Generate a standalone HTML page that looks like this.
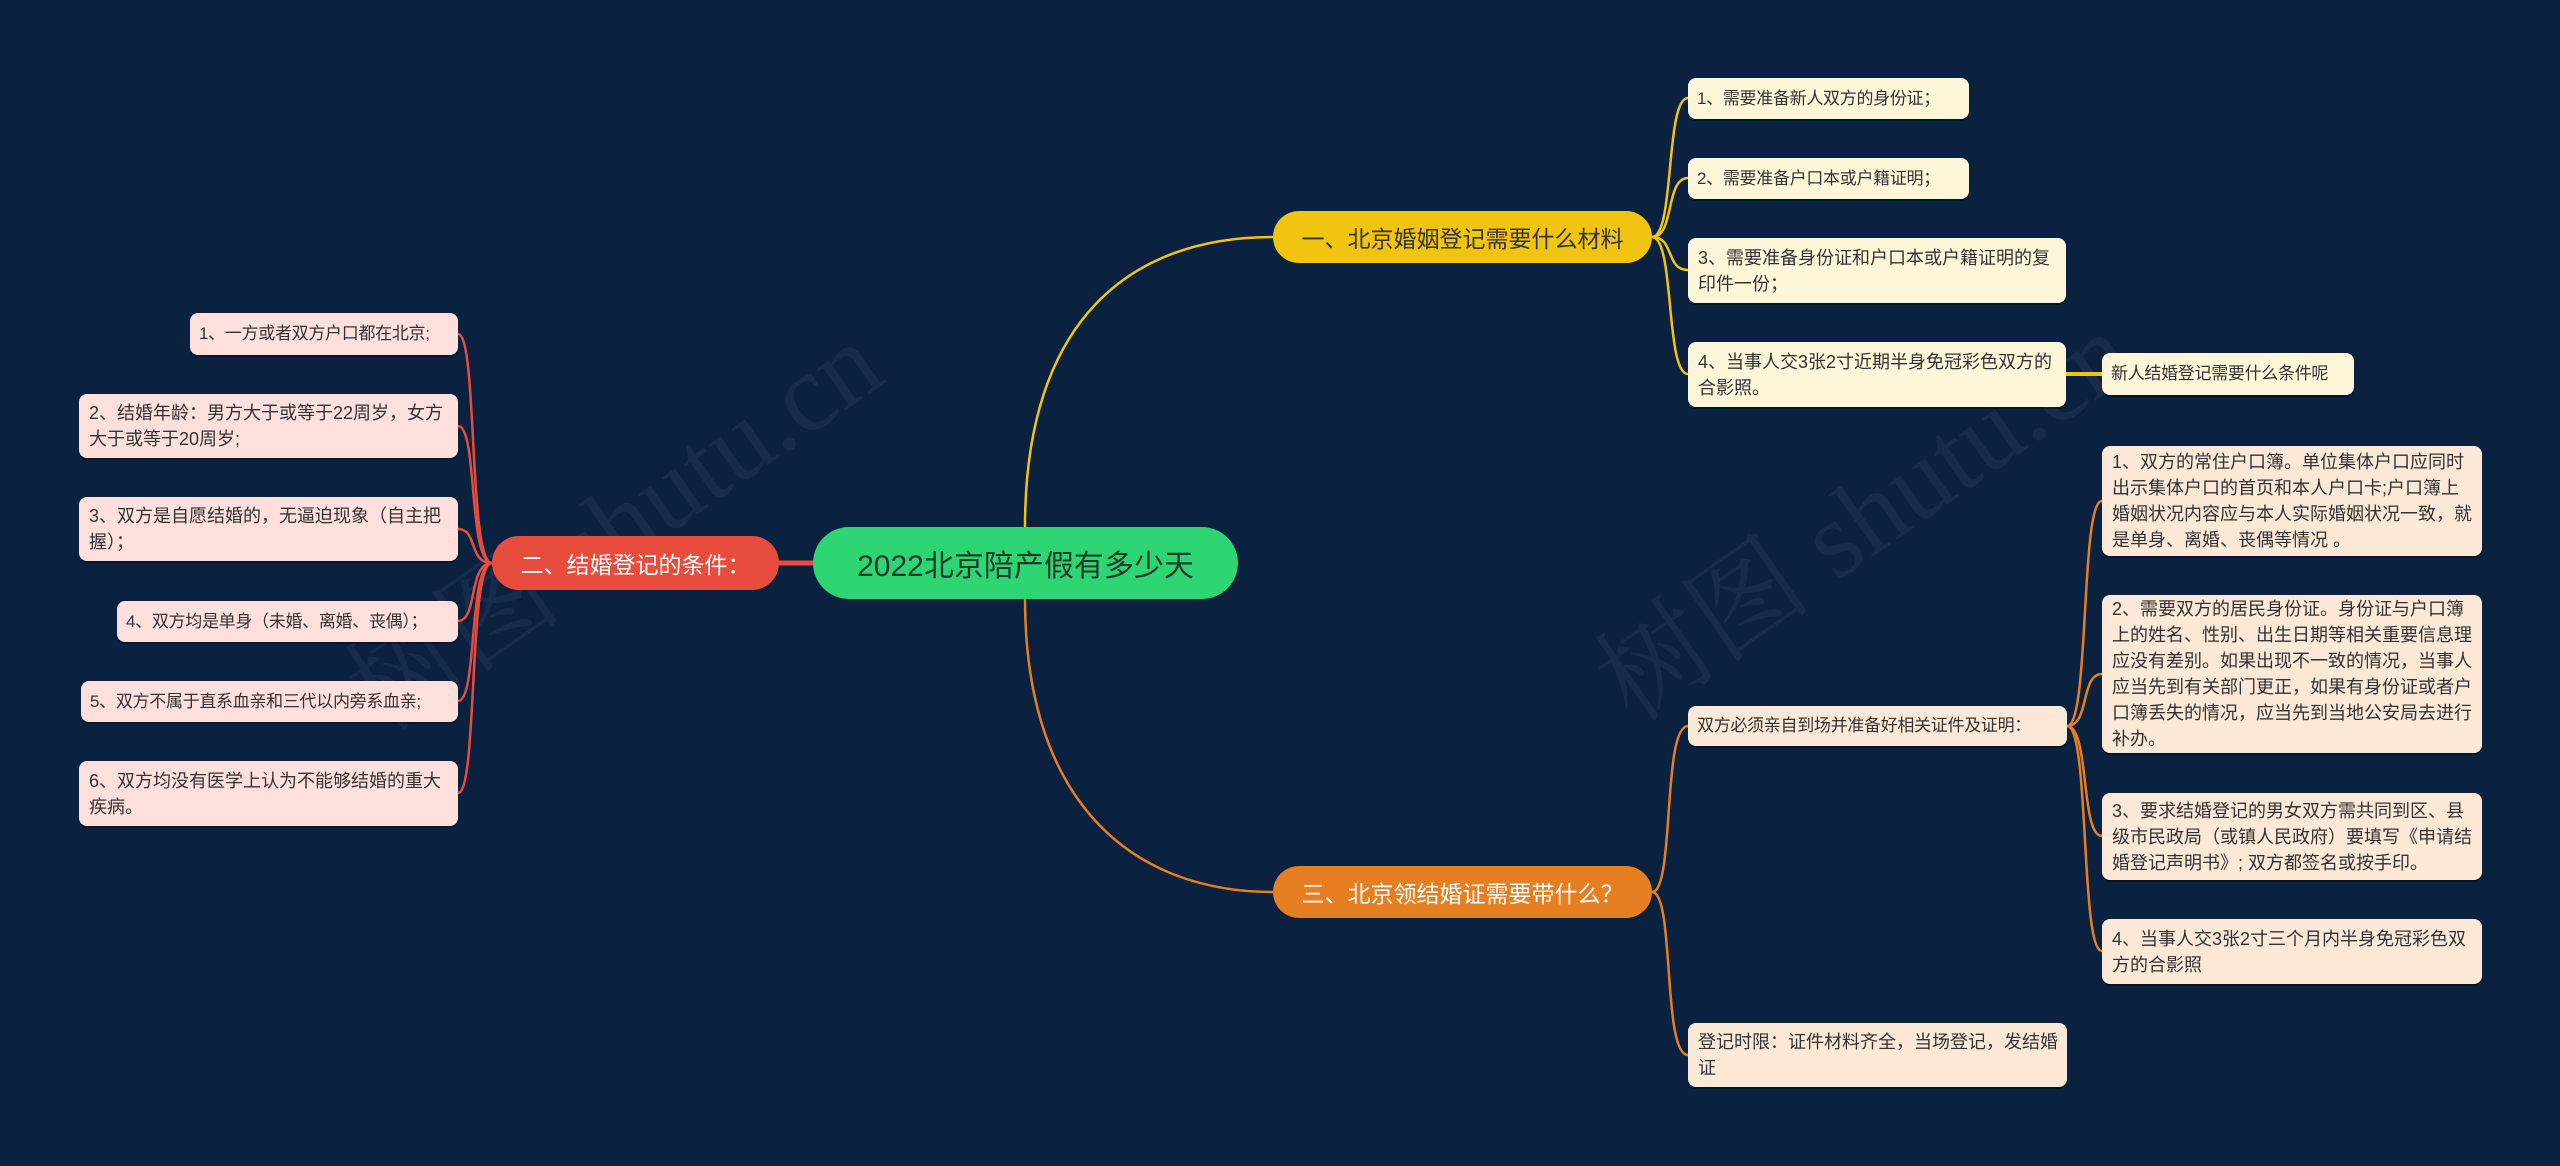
<!DOCTYPE html>
<html><head><meta charset="utf-8"><style>
body{margin:0;width:2560px;height:1166px;background:#0b2140;overflow:hidden;position:relative;font-family:"Liberation Sans","Noto Sans CJK SC",sans-serif}
.n{position:absolute;box-sizing:border-box;border-radius:8px;font-size:18px;line-height:26px;color:#333;padding:6px 10px;display:flex;align-items:center;box-shadow:0 2px 0 rgba(0,0,0,.35)}
.s{white-space:nowrap;letter-spacing:-0.3px;font-size:17px;padding:6px 9px}
.y{background:#fdf6d8}
.r{background:#fde0dc}
.o{background:#fce8d6}
.m{position:absolute;box-sizing:border-box;display:flex;align-items:center;justify-content:center;border-radius:28px;font-size:23px;white-space:nowrap}
.wm{position:absolute;font-family:"Liberation Serif","Noto Serif CJK SC",serif;font-size:110px;color:rgba(255,255,255,.05);transform:rotate(-35deg);white-space:nowrap}
</style></head><body>
<div class="wm" style="left:300px;top:440px">树图 shutu.cn</div>
<div class="wm" style="left:1550px;top:430px">树图 shutu.cn</div>
<svg width="2560" height="1166" style="position:absolute;left:0;top:0">
<g fill="none" stroke-width="2.5">
<path d="M1025,527 C1025,320 1130,237 1273,237" stroke="#f1c40f"/>
<path d="M1025,599 C1025,800 1130,892 1273,892" stroke="#e67e22"/>
<path d="M813,563 L779,563" stroke="#e74c3c" stroke-width="5"/>
<g stroke="#f1c40f">
<path d="M1652,237 C1675,237 1665,98 1688,98"/>
<path d="M1652,237 C1675,237 1665,178 1688,178"/>
<path d="M1652,237 C1675,237 1665,270 1688,270"/>
<path d="M1652,237 C1675,237 1665,374 1688,374"/>
<path d="M2066,374 L2102,374" stroke-width="4"/>
</g>
<g stroke="#e74c3c">
<path d="M492,563 C468,563 478,334 458,334"/>
<path d="M492,563 C468,563 478,426 458,426"/>
<path d="M492,563 C468,563 478,529 458,529"/>
<path d="M492,563 C468,563 478,621 458,621"/>
<path d="M492,563 C468,563 478,701 458,701"/>
<path d="M492,563 C468,563 478,793 458,793"/>
</g>
<g stroke="#e67e22">
<path d="M1652,892 C1675,892 1662,726 1688,726"/>
<path d="M1652,892 C1675,892 1662,1055 1688,1055"/>
<path d="M2067,726 C2090,726 2080,501 2102,501"/>
<path d="M2067,726 C2090,726 2080,674 2102,674"/>
<path d="M2067,726 C2090,726 2080,836 2102,836"/>
<path d="M2067,726 C2090,726 2080,951 2102,951"/>
</g>
</g></svg>

<div class="m" style="left:813px;top:527px;width:425px;height:72px;background:#2ed573;color:#1a3a2a;font-size:30px;border-radius:36px">2022北京陪产假有多少天</div>
<div class="m" style="left:1273px;top:211px;width:379px;height:52px;background:#f1c40f;color:#333">一、北京婚姻登记需要什么材料</div>
<div class="m" style="left:492px;top:536px;width:287px;height:54px;background:#e74c3c;color:#fff">二、结婚登记的条件：</div>
<div class="m" style="left:1273px;top:866px;width:379px;height:52px;background:#e67e22;color:#fff">三、北京领结婚证需要带什么？</div>

<div class="n y s" style="left:1688px;top:78px;width:281px;height:41px">1、需要准备新人双方的身份证；</div>
<div class="n y s" style="left:1688px;top:158px;width:281px;height:41px">2、需要准备户口本或户籍证明；</div>
<div class="n y" style="left:1688px;top:238px;width:378px;height:65px">3、需要准备身份证和户口本或户籍证明的复印件一份；</div>
<div class="n y" style="left:1688px;top:342px;width:378px;height:65px">4、当事人交3张2寸近期半身免冠彩色双方的合影照。</div>
<div class="n y s" style="left:2102px;top:353px;width:252px;height:42px">新人结婚登记需要什么条件呢</div>

<div class="n r s" style="left:190px;top:313px;width:268px;height:42px">1、一方或者双方户口都在北京;</div>
<div class="n r" style="left:79px;top:394px;width:379px;height:64px">2、结婚年龄：男方大于或等于22周岁，女方大于或等于20周岁;</div>
<div class="n r" style="left:79px;top:497px;width:379px;height:64px">3、双方是自愿结婚的，无逼迫现象（自主把握）；</div>
<div class="n r s" style="left:117px;top:601px;width:341px;height:41px">4、双方均是单身（未婚、离婚、丧偶）；</div>
<div class="n r s" style="left:81px;top:681px;width:377px;height:41px">5、双方不属于直系血亲和三代以内旁系血亲;</div>
<div class="n r" style="left:79px;top:761px;width:379px;height:65px">6、双方均没有医学上认为不能够结婚的重大疾病。</div>

<div class="n o s" style="left:1688px;top:706px;width:379px;height:40px">双方必须亲自到场并准备好相关证件及证明：</div>
<div class="n o" style="left:1688px;top:1023px;width:379px;height:64px;padding:6px 4px 6px 10px">登记时限：证件材料齐全，当场登记，发结婚证</div>
<div class="n o" style="left:2102px;top:446px;width:380px;height:110px">1、双方的常住户口簿。单位集体户口应同时出示集体户口的首页和本人户口卡;户口簿上婚姻状况内容应与本人实际婚姻状况一致，就是单身、离婚、丧偶等情况 。</div>
<div class="n o" style="left:2102px;top:595px;width:380px;height:158px">2、需要双方的居民身份证。身份证与户口簿上的姓名、性别、出生日期等相关重要信息理应没有差别。如果出现不一致的情况，当事人应当先到有关部门更正，如果有身份证或者户口簿丢失的情况，应当先到当地公安局去进行补办。</div>
<div class="n o" style="left:2102px;top:793px;width:380px;height:87px">3、要求结婚登记的男女双方需共同到区、县级市民政局（或镇人民政府）要填写《申请结婚登记声明书》; 双方都签名或按手印。</div>
<div class="n o" style="left:2102px;top:919px;width:380px;height:65px">4、当事人交3张2寸三个月内半身免冠彩色双方的合影照</div>
</body></html>
